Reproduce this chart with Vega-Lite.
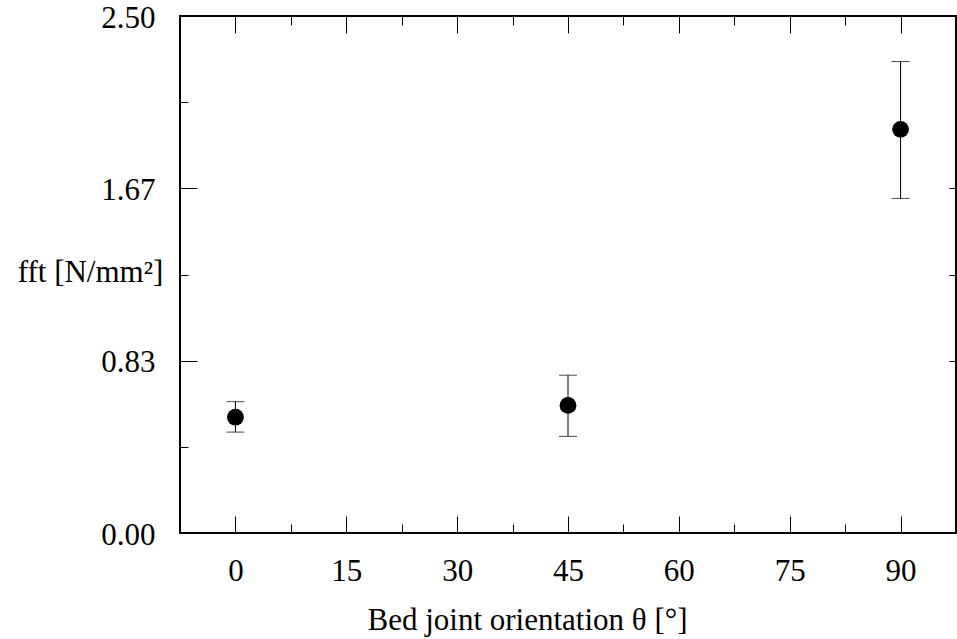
{
  "$schema": "https://vega.github.io/schema/vega-lite/v6.json",
  "width": 776,
  "height": 517,
  "autosize": "none",
  "padding": {"left": 180, "top": 16, "right": 1, "bottom": 106},
  "background": "white",
  "config": {
    "view": {"stroke": "black", "strokeWidth": 2},
    "axis": {
      "grid": false,
      "domain": false,
      "tickColor": "black",
      "tickWidth": 1,
      "labelFont": "Liberation Serif",
      "labelFontSize": 31,
      "labelColor": "black",
      "titleFont": "Liberation Serif",
      "titleFontSize": 31,
      "titleFontWeight": "normal",
      "titleColor": "black"
    }
  },
  "data": {
    "values": [
      {"theta": 0, "f": 0.560, "lo": 0.488, "hi": 0.635},
      {"theta": 45, "f": 0.617, "lo": 0.467, "hi": 0.763},
      {"theta": 90, "f": 1.952, "lo": 1.618, "hi": 2.280}
    ]
  },
  "resolve": {"axis": {"x": "independent", "y": "independent"}},
  "layer": [
    {
      "mark": {"type": "rule", "color": "black", "strokeWidth": 1},
      "encoding": {
        "x": {
          "field": "theta", "type": "quantitative",
          "scale": {"domain": [-7.5, 97.5], "nice": false, "zero": false},
          "axis": {
            "orient": "bottom",
            "values": [0, 15, 30, 45, 60, 75, 90],
            "tickSize": -17,
            "labelPadding": 40,
            "labelFlush": false,
            "title": "Bed joint orientation θ [°]",
            "titleX": 347,
            "titleY": 87,
            "titleBaseline": "middle",
            "titleAlign": "center"
          }
        },
        "y": {
          "field": "lo", "type": "quantitative",
          "scale": {"domain": [0, 2.5], "nice": false, "zero": false},
          "axis": {
            "orient": "left",
            "values": [0, 0.833333, 1.666667, 2.5],
            "format": ".2f",
            "tickSize": -17,
            "labelPadding": 42,
            "labelOffset": 2,
            "title": "fft [N/mm²]",
            "titleAngle": 0,
            "titleX": -90,
            "titleY": 256,
            "titleAlign": "center",
            "titleBaseline": "middle"
          }
        },
        "y2": {"field": "hi"}
      }
    },
    {
      "mark": {"type": "tick", "orient": "horizontal", "color": "black", "size": 18, "thickness": 1},
      "encoding": {
        "x": {
          "field": "theta", "type": "quantitative",
          "axis": {
            "orient": "bottom",
            "values": [7.5, 22.5, 37.5, 52.5, 67.5, 82.5],
            "tickSize": -9,
            "labels": false,
            "title": null
          }
        },
        "y": {
          "field": "lo", "type": "quantitative",
          "axis": {
            "orient": "left",
            "values": [0.416667, 1.25, 2.083333],
            "tickSize": -8,
            "labels": false,
            "title": null
          }
        }
      }
    },
    {
      "mark": {"type": "tick", "orient": "horizontal", "color": "black", "size": 18, "thickness": 1},
      "encoding": {
        "x": {
          "field": "theta", "type": "quantitative",
          "axis": {
            "orient": "top",
            "values": [0, 15, 30, 45, 60, 75, 90],
            "tickSize": -17,
            "labels": false,
            "title": null
          }
        },
        "y": {
          "field": "hi", "type": "quantitative",
          "axis": {
            "orient": "right",
            "values": [0.833333, 1.25, 1.666667],
            "tickSize": -7,
            "labels": false,
            "title": null
          }
        }
      }
    },
    {
      "mark": {"type": "point", "filled": true, "color": "black", "opacity": 1, "size": 283},
      "encoding": {
        "x": {
          "field": "theta", "type": "quantitative",
          "axis": {
            "orient": "top",
            "values": [7.5, 22.5, 37.5, 52.5, 67.5, 82.5],
            "tickSize": -9,
            "labels": false,
            "title": null
          }
        },
        "y": {"field": "f", "type": "quantitative", "axis": null}
      }
    }
  ]
}
